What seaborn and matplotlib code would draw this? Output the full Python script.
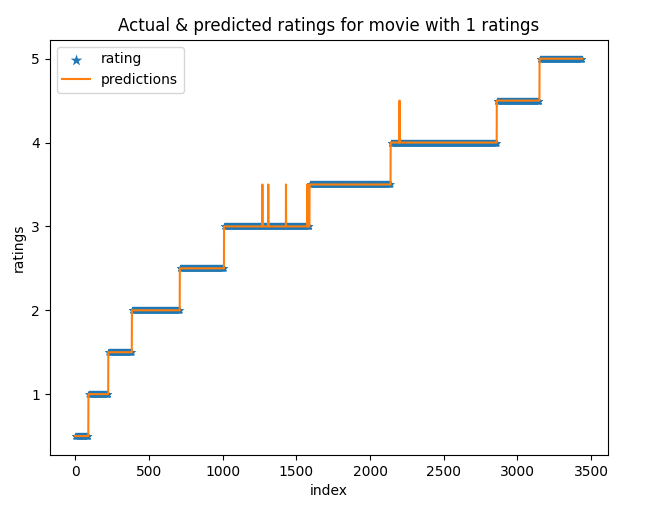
import numpy as np
import matplotlib
matplotlib.use("Agg")
from matplotlib import pyplot as plt
import seaborn as sns

# rating levels and how many rows each level spans (sorted by rating)
levels = [0.5, 1.0, 1.5, 2.0, 2.5, 3.0, 3.5, 4.0, 4.5, 5.0]
counts = [90, 135, 160, 325, 300, 580, 550, 720, 290, 290]
# predictions that differ from the actual rating: index -> predicted value
spike_idx = [1270, 1310, 1430, 1575, 1580, 2200]
spike_val = [3.5, 3.5, 3.5, 3.5, 3.5, 4.5]

rating = np.repeat(levels, counts)
index = np.arange(len(rating))
pred = rating.copy()
pred[spike_idx] = spike_val

fig = plt.figure(figsize=(6.47, 5.17), dpi=100)
ax = fig.add_axes([0.077, 0.12, 0.862, 0.803])

sns.scatterplot(x=index, y=rating, marker='*', s=30, color='#1f77b4',
                edgecolor='#1f77b4', linewidth=0, label='rating', ax=ax)
sns.lineplot(x=index, y=pred, color='#ff7f0e', estimator=None,
             label='predictions', ax=ax)

ax.set_xlabel('index')
ax.set_ylabel('ratings')
ax.set_title('Actual & predicted ratings for movie with 1 ratings')
ax.set_xticks([0, 500, 1000, 1500, 2000, 2500, 3000, 3500])
ax.set_yticks([1, 2, 3, 4, 5])
ax.legend(loc='upper left', markerscale=1.6)

fig.savefig('out.png', dpi=100)
